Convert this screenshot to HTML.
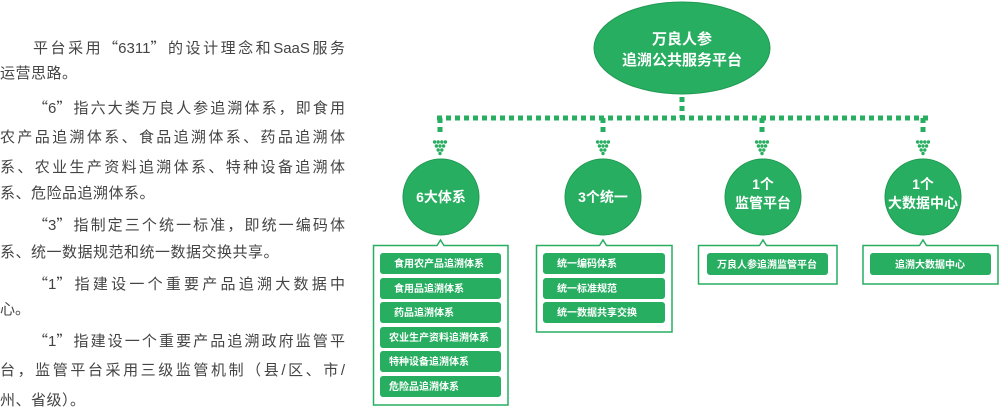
<!DOCTYPE html>
<html><head><meta charset="utf-8"><style>
body{margin:0;width:999px;height:420px;background:#fff;overflow:hidden;position:relative;font-family:"Liberation Sans","Noto Sans CJK SC",sans-serif;}
.t{position:absolute;left:0;width:345px;font-size:15px;color:#444;line-height:20px;white-space:nowrap;}
.j{text-align:justify;text-align-last:justify;}
.q{font-family:"Noto Sans CJK SC",sans-serif;}
svg{position:absolute;left:0;top:0;}
</style></head><body>
<div class="t j" style="top:38px;padding-left:33px;width:312px">平台采用<span class="q">“</span>6311<span class="q">”</span>的设计理念和SaaS服务</div>
<div class="t" style="top:64px;letter-spacing:0.5px">运营思路。</div>
<div class="t j" style="top:98px;padding-left:33px;width:312px"><span class="q">“</span>6<span class="q">”</span>指六大类万良人参追溯体系，即食用</div>
<div class="t j" style="top:128px">农产品追溯体系、食品追溯体系、药品追溯体</div>
<div class="t j" style="top:158px">系、农业生产资料追溯体系、特种设备追溯体</div>
<div class="t" style="top:184px;letter-spacing:0.5px">系、危险品追溯体系。</div>
<div class="t j" style="top:215px;padding-left:33px;width:312px"><span class="q">“</span>3<span class="q">”</span>指制定三个统一标准，即统一编码体</div>
<div class="t" style="top:243px;letter-spacing:0.5px">系、统一数据规范和统一数据交换共享。</div>
<div class="t j" style="top:274px;padding-left:33px;width:312px"><span class="q">“</span>1<span class="q">”</span>指建设一个重要产品追溯大数据中</div>
<div class="t" style="top:300px">心。</div>
<div class="t j" style="top:331px;padding-left:33px;width:312px"><span class="q">“</span>1<span class="q">”</span>指建设一个重要产品追溯政府监管平</div>
<div class="t j" style="top:361px">台，监管平台采用三级监管机制（县/区、市/</div>
<div class="t" style="top:391px;letter-spacing:0.5px">州、省级）。</div>

<svg width="999" height="420" viewBox="0 0 999 420" font-family="Liberation Sans, Noto Sans CJK SC, sans-serif">
<defs>
<g id="ah" fill="#27ae60">
<circle cx="-5.4" cy="0" r="1.7"/><circle cx="-1.8" cy="0" r="1.7"/><circle cx="1.8" cy="0" r="1.7"/><circle cx="5.4" cy="0" r="1.7"/>
<circle cx="-3.6" cy="4" r="1.7"/><circle cx="0" cy="4" r="1.7"/><circle cx="3.6" cy="4" r="1.7"/>
<circle cx="-1.8" cy="8" r="1.7"/><circle cx="1.8" cy="8" r="1.7"/>
<circle cx="0" cy="11.5" r="1.7"/>
</g>
</defs>
<g stroke="#27ae60" stroke-width="5" stroke-dasharray="5 4" fill="none">
<line x1="682" y1="97" x2="682" y2="118"/>
<line x1="437" y1="118" x2="928" y2="118"/>
<line x1="440" y1="118" x2="440" y2="136"/>
<line x1="603" y1="118" x2="603" y2="136"/>
<line x1="762" y1="118" x2="762" y2="136"/>
<line x1="923" y1="118" x2="923" y2="136"/>
</g>
<use href="#ah" x="440" y="142"/><use href="#ah" x="603" y="142"/><use href="#ah" x="762" y="142"/><use href="#ah" x="923" y="142"/>

<ellipse cx="682" cy="48" rx="88" ry="46" fill="#27ae60" stroke="#1f9a52" stroke-width="1"/>
<text x="682" y="44" fill="#fff" font-size="15" font-weight="bold" text-anchor="middle">万良人参</text>
<text x="682" y="65" fill="#fff" font-size="15" font-weight="bold" text-anchor="middle">追溯公共服务平台</text>

<g fill="#27ae60" stroke="#1f9a52" stroke-width="1">
<circle cx="441" cy="197" r="38"/><circle cx="603" cy="197" r="38"/><circle cx="763" cy="197" r="38"/><circle cx="923" cy="197" r="38"/>
</g>
<g fill="#fff" font-size="14" font-weight="bold" text-anchor="middle">
<text x="441" y="202">6大体系</text>
<text x="603" y="202">3个统一</text>
<text x="763" y="189">1个</text><text x="763" y="208">监管平台</text>
<text x="923" y="189">1个</text><text x="923" y="208">大数据中心</text>
</g>

<g fill="#fff" stroke="#27ae60" stroke-width="1.5">
<path d="M373.5 245.5 H437 L440.5 240 L444 245.5 H508 V405 H373.5 Z"/>
<path d="M536.5 245.5 H599.5 L603 240 L606.5 245.5 H672 V332 H536.5 Z"/>
<path d="M698.5 245.5 H759.5 L763 240 L766.5 245.5 H837 V284 H698.5 Z"/>
<path d="M863 245.5 H919.5 L923 240 L926.5 245.5 H998 V284 H863 Z"/>
</g>
<g fill="#27ae60">
<rect x="380" y="253" width="121" height="21" rx="3"/>
<rect x="380" y="278" width="121" height="21" rx="3"/>
<rect x="380" y="302" width="121" height="21" rx="3"/>
<rect x="380" y="327" width="121" height="21" rx="3"/>
<rect x="380" y="351" width="121" height="21" rx="3"/>
<rect x="380" y="376" width="121" height="21" rx="3"/>
<rect x="543" y="253" width="122" height="21" rx="3"/>
<rect x="543" y="278" width="122" height="21" rx="3"/>
<rect x="543" y="302" width="122" height="21" rx="3"/>
<rect x="707" y="253" width="121" height="22" rx="3"/>
<rect x="870" y="253" width="121" height="22" rx="3"/>
</g>
<g fill="#fff" font-size="10" font-weight="bold">
<text x="394" y="267">食用农产品追溯体系</text>
<text x="394" y="292">食用品追溯体系</text>
<text x="394" y="316">药品追溯体系</text>
<text x="389" y="341">农业生产资料追溯体系</text>
<text x="389" y="365">特种设备追溯体系</text>
<text x="389" y="390">危险品追溯体系</text>
<text x="557" y="267">统一编码体系</text>
<text x="557" y="292">统一标准规范</text>
<text x="557" y="316">统一数据共享交换</text>
<text x="767" y="268" text-anchor="middle">万良人参追溯监管平台</text>
<text x="930" y="268" text-anchor="middle">追溯大数据中心</text>
</g>
</svg>
</body></html>
